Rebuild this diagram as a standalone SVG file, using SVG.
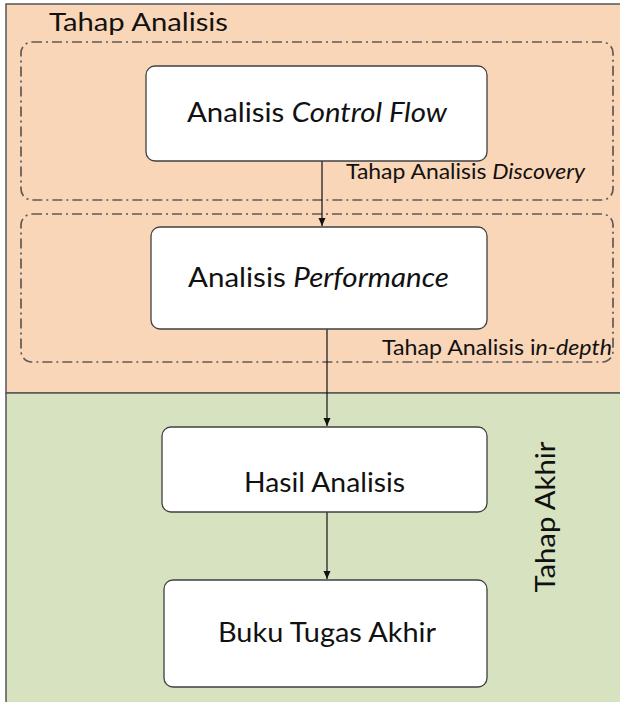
<svg xmlns="http://www.w3.org/2000/svg" width="620" height="702" viewBox="0 0 620 702">
<style>
.node rect{fill:#fff;stroke:#404040;stroke-width:1.3}
.grp{fill:none;stroke:#5f5955;stroke-width:1.7;stroke-dasharray:10 4 2 4}
text{font-family:Lato,"Open Sans","Liberation Sans",sans-serif;fill:#111}
.lbl{font-size:27px;text-anchor:middle}
.sm{font-size:21px}
.conn line{stroke:#111;stroke-width:1.2}
</style>
<defs>
<marker id="ah" markerWidth="10" markerHeight="10" refX="8" refY="3.5" orient="auto" markerUnits="userSpaceOnUse">
<path d="M0,0 L8,3.5 L0,7 z" fill="#111"/>
</marker>
</defs>
<g id="background">
<rect x="6" y="4" width="620" height="389" fill="#f9d6b8" stroke="#555" stroke-width="1.5"/>
<rect x="6" y="393" width="620" height="315" fill="#d7e3c0" stroke="#555" stroke-width="1.5"/>
</g>
<g id="tahap-analisis">
<text x="49" y="31" font-size="25" textLength="179" lengthAdjust="spacingAndGlyphs">Tahap Analisis</text>
</g>
<g id="discovery">
<rect class="grp" x="21" y="42" width="592" height="158" rx="11"/>
<text class="sm" x="346" y="179" textLength="239" lengthAdjust="spacingAndGlyphs">Tahap Analisis <tspan font-style="italic">Discovery</tspan></text>
</g>
<g id="in-depth">
<rect class="grp" x="21" y="214" width="592" height="148" rx="11"/>
<text class="sm" x="382" y="355" textLength="230" lengthAdjust="spacingAndGlyphs">Tahap Analisis i<tspan font-style="italic">n-depth</tspan></text>
</g>
<g id="tahap-akhir">
<text x="0" y="0" font-size="26" transform="translate(555,517) rotate(-90)" text-anchor="middle" textLength="151" lengthAdjust="spacingAndGlyphs">Tahap Akhir</text>
</g>
<g class="conn" id="connectors">
<line x1="322" y1="161" x2="322" y2="226" marker-end="url(#ah)"/>
<line x1="327" y1="329" x2="327" y2="426" marker-end="url(#ah)"/>
<line x1="327" y1="512" x2="327" y2="579" marker-end="url(#ah)"/>
</g>
<g class="node" id="n-control-flow">
<rect x="146" y="66" width="341" height="95" rx="9"/>
<text class="lbl" x="317" y="122" textLength="260" lengthAdjust="spacingAndGlyphs">Analisis <tspan font-style="italic">Control Flow</tspan></text>
</g>
<g class="node" id="n-performance">
<rect x="151" y="227" width="336" height="102" rx="9"/>
<text class="lbl" x="318.5" y="287" textLength="261" lengthAdjust="spacingAndGlyphs">Analisis <tspan font-style="italic">Performance</tspan></text>
</g>
<g class="node" id="n-hasil">
<rect x="162" y="427" width="325" height="85" rx="9"/>
<text class="lbl" x="324.5" y="492" textLength="161" lengthAdjust="spacingAndGlyphs">Hasil Analisis</text>
</g>
<g class="node" id="n-buku">
<rect x="164" y="580" width="323" height="107" rx="9"/>
<text class="lbl" x="327" y="642" textLength="218" lengthAdjust="spacingAndGlyphs">Buku Tugas Akhir</text>
</g>
</svg>
